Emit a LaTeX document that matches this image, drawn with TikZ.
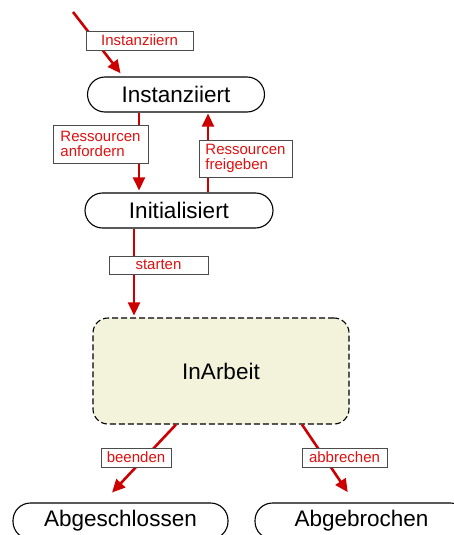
\documentclass[tikz,border=0pt]{standalone}
\usepackage{fontspec}
\setmainfont{Liberation Sans}
\usetikzlibrary{arrows.meta}
\definecolor{tred}{HTML}{CC0000}
\definecolor{lred}{HTML}{DD1111}
\definecolor{beige}{HTML}{F3F3DC}
\tikzset{
  state/.style={draw=black, line width=1.1pt, rounded corners=17.5pt, minimum height=35pt, inner sep=0pt, font=\fontsize{22.5}{24}\selectfont},
  busy/.style={draw=black, line width=1.1pt, dashed, dash pattern=on 6pt off 3pt, fill=beige, rounded corners=15pt, inner sep=0pt, font=\fontsize{22.5}{24}\selectfont},
  lbl/.style={draw=black!70, line width=0.9pt, fill=white, text=lred, font=\fontsize{15}{15.5}\selectfont, inner sep=0pt, align=left},
  trans/.style={draw=tred, line width=2.6pt, -{Triangle[length=13pt,width=12pt]}}
}
\begin{document}
\begin{tikzpicture}[x=1pt,y=-1pt]
\clip (0,0) rectangle (454,535);
\fill[white] (0,0) rectangle (454,535);
% states
\node[state, minimum width=177pt] (inst) at (176,94.5) {Instanziiert};
\node[state, minimum width=188pt] (init) at (179,210.5) {Initialisiert};
\node[busy, minimum width=256pt, minimum height=106pt] (arb) at (221,371) {InArbeit};
\node[state, minimum width=215pt, minimum height=36pt] (absc) at (120.5,521) {Abgeschlossen};
\node[state, minimum width=213pt, minimum height=36pt] (abbr) at (361.5,521) {Abgebrochen};
\coordinate (start) at (73,12);
% transitions
\draw[trans, shorten >=4pt] (start) -- (inst.north west -| 123,0);
\draw[trans, shorten >=2pt] (inst.south -| 139,0) -- (init.north -| 139,0);
\draw[trans, shorten >=1pt] (init.north -| 208,0) -- (inst.south -| 208,0);
\draw[trans, shorten >=2pt] (init.south -| 134,0) -- (arb.north -| 134,0);
\draw[trans, shorten >=13.6pt] (arb.south -| 176,0) -- (absc.north -| 102.7,0);
\draw[trans, shorten >=12.4pt] (arb.south -| 302,0) -- (abbr.north -| 354.7,0);
% labels
\node[lbl, minimum width=107pt, minimum height=19pt] (l1) at (139.5,40.5) {Instanziiern};
\node[lbl, minimum width=95pt, minimum height=38pt] (l2) at (100.5,144) {Ressourcen\\anfordern};
\node[lbl, minimum width=93pt, minimum height=37pt] (l3) at (245.5,158.5) {Ressourcen\\freigeben};
\node[lbl, minimum width=99pt, minimum height=18pt] (l4) at (158.5,265) {starten};
\node[lbl, minimum width=70pt, minimum height=19pt] (l5) at (136,457.5) {beenden};
\node[lbl, minimum width=85pt, minimum height=19pt] (l6) at (344.5,457.5) {abbrechen};
\end{tikzpicture}
\end{document}
